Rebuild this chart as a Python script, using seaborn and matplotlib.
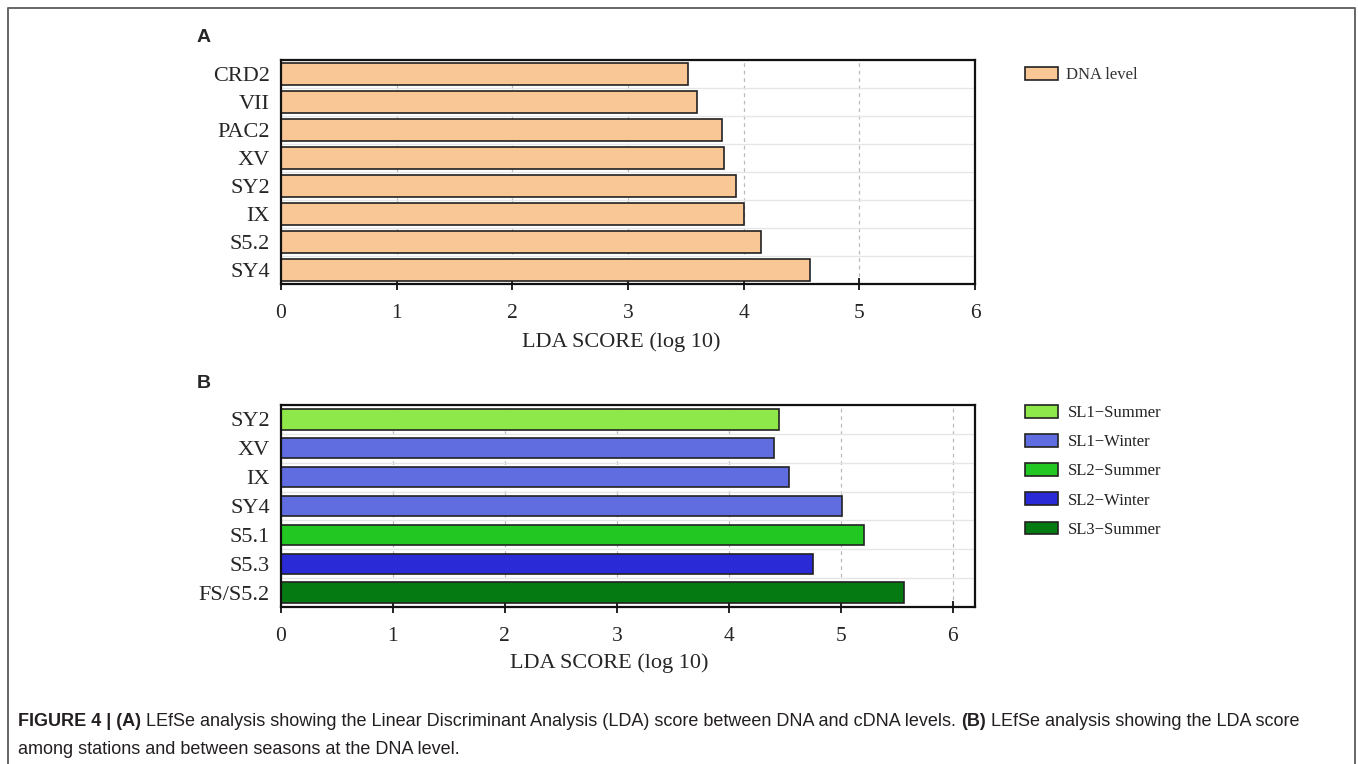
import matplotlib
matplotlib.use('Agg')
import matplotlib.pyplot as plt
import matplotlib.patches as mpatches
import seaborn as sns
import pandas as pd

sns.set_style('white')
plt.rcParams['font.family'] = ['Liberation Serif', 'DejaVu Serif']

# panel A: DNA level
taxa_a = ['CRD2', 'VII', 'PAC2', 'XV', 'SY2', 'IX', 'S5.2', 'SY4']
lda_a = [3.52, 3.60, 3.81, 3.83, 3.93, 4.00, 4.15, 4.57]

# panel B: stations / seasons
taxa_b = ['SY2', 'XV', 'IX', 'SY4', 'S5.1', 'S5.3', 'FS/S5.2']
lda_b = [4.45, 4.40, 4.54, 5.01, 5.21, 4.75, 5.57]
group_b = ['SL1\u2212Summer', 'SL1\u2212Winter', 'SL1\u2212Winter', 'SL1\u2212Winter',
           'SL2\u2212Summer', 'SL2\u2212Winter', 'SL3\u2212Summer']
groups = ['SL1\u2212Summer', 'SL1\u2212Winter', 'SL2\u2212Summer', 'SL2\u2212Winter', 'SL3\u2212Summer']
group_colors = ['#8FE84A', '#5F6DE0', '#22C722', '#2A2AD6', '#067A12']
dna_color = '#F9C795'

df_a = pd.DataFrame({'taxon': taxa_a, 'lda': lda_a})
df_b = pd.DataFrame({'taxon': taxa_b, 'lda': lda_b, 'group': group_b})

W, H = 1358, 764
fig = plt.figure(figsize=(W / 100, H / 100), dpi=100)

def fx(px):
    return px / W

def fy(py):
    return 1 - py / H

ax_a = fig.add_axes([fx(281), fy(284), fx(975 - 281), (284 - 60) / H])
ax_b = fig.add_axes([fx(281), fy(607), fx(975 - 281), (607 - 405) / H])


def style_axis(ax, n, xmax):
    ax.set_xlim(0, xmax)
    ax.set_ylim(n - 0.5, -0.5)
    ax.set_xticks(range(0, 7))
    ax.set_yticks(range(n))
    ax.set_yticks([i - 0.5 for i in range(n + 1)], minor=True)
    ax.tick_params(axis='y', which='major', length=0, pad=8, labelsize=16)
    ax.tick_params(axis='y', which='minor', length=8, width=1.3, direction='inout', color='#111')
    ax.tick_params(axis='x', which='major', length=9, width=1.3, direction='inout', color='#111',
                   labelsize=15.5, pad=10, bottom=True)
    ax.set_axisbelow(True)
    ax.grid(False)
    ax.grid(axis='x', which='major', ls=(0, (3, 3)), color='#bbbbbb', lw=0.9)
    ax.grid(axis='y', which='minor', ls='-', color='#e6e6e6', lw=1.0)
    for s in ax.spines.values():
        s.set_visible(True)
        s.set_color('#111')
        s.set_linewidth(1.6)
    ax.set_ylabel('')
    ax.set_xlabel('LDA SCORE (log 10)', fontsize=16)


sns.barplot(data=df_a, x='lda', y='taxon', orient='h', color=dna_color, width=0.82,
            edgecolor='#222', linewidth=1.2, saturation=1, ax=ax_a)
style_axis(ax_a, len(taxa_a), 6)

sns.barplot(data=df_b, x='lda', y='taxon', orient='h', hue='group', hue_order=groups,
            palette=dict(zip(groups, group_colors)), dodge=False, width=0.7,
            edgecolor='#222', linewidth=1.2, saturation=1, legend=False, ax=ax_b)
style_axis(ax_b, len(taxa_b), 6.2)
ax_a.xaxis.set_label_coords(0.49, -0.214)
ax_b.xaxis.set_label_coords(0.473, -0.23)

# legends
h_a = [mpatches.Patch(facecolor=dna_color, edgecolor='#222', lw=1.2, label='DNA level')]
fig.legend(handles=h_a, loc='upper left', bbox_to_anchor=(fx(1010), fy(52)), frameon=False,
           fontsize=12, handlelength=2.0, handleheight=0.8, handletextpad=0.45, labelcolor='#333')
h_b = [mpatches.Patch(facecolor=c, edgecolor='#222', lw=1.2, label=g) for g, c in zip(groups, group_colors)]
fig.legend(handles=h_b, loc='upper left', bbox_to_anchor=(fx(1010), fy(390)), frameon=False,
           fontsize=12, handlelength=2.0, handleheight=0.8, handletextpad=0.55, labelspacing=0.78,
           labelcolor='#222')

# panel letters
fig.text(fx(197), fy(38), 'A', fontsize=14, fontweight='bold', family='Liberation Sans', va='center')
fig.text(fx(197), fy(383), 'B', fontsize=14, fontweight='bold', family='Liberation Sans', va='center')

# frame around the figure (open at the bottom)
fig.add_artist(plt.Line2D([fx(8), fx(8), fx(1355), fx(1355)], [0, fy(8), fy(8), 0],
                          transform=fig.transFigure, color='#666', lw=1.4))

# caption with bold pieces
cap_font = ['Liberation Sans Narrow', 'Liberation Sans']
cap_size = 13.0
renderer = fig.canvas.get_renderer()


def rich_line(x0, y, pieces):
    x = x0
    for txt, bold in pieces:
        t = fig.text(x, y, txt, fontsize=cap_size, family=cap_font, va='center', color='#231f20',
                     fontweight='bold' if bold else 'normal')
        bb = t.get_window_extent(renderer)
        x += bb.width / W


rich_line(fx(18), fy(722), [
    ('FIGURE 4 | (A)', True),
    (' LEfSe analysis showing the Linear Discriminant Analysis (LDA) score between DNA and cDNA levels. ', False),
    ('(B)', True),
    (' LEfSe analysis showing the LDA score', False),
])
rich_line(fx(18), fy(749), [('among stations and between seasons at the DNA level.', False)])

fig.savefig('out.png', dpi=100)
